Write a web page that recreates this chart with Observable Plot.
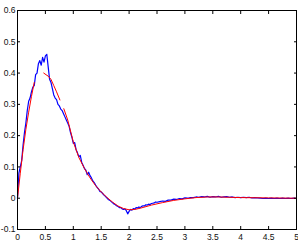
<!DOCTYPE html>
<html><head><meta charset="utf-8">
<script src="https://cdn.jsdelivr.net/npm/d3@7"></script>
<script src="https://cdn.jsdelivr.net/npm/@observablehq/plot@0.6"></script>
<style>body{margin:0;background:#fff}</style>
</head><body><div id="chart"></div>
<script>
const xTicks = [0, 0.5, 1, 1.5, 2, 2.5, 3, 3.5, 4, 4.5, 5];
const yTicks = [-0.1, 0, 0.1, 0.2, 0.3, 0.4, 0.5, 0.6];
const xTickLabels = ["0", "0.5", "1", "1.5", "2", "2.5", "3", "3.5", "4", "4.5", "5"];
const yTickLabels = ["-0.1", "0", "0.1", "0.2", "0.3", "0.4", "0.5", "0.6"];

// measured signal (blue)
const blueX = [0,0.025,0.05,0.075,0.1,0.125,0.15,0.175,0.2,0.225,0.25,0.275,0.3,0.325,0.35,0.375,0.4,0.425,0.45,0.475,0.5,0.525,0.55,0.575,0.6,0.625,0.65,0.675,0.7,0.725,0.75,0.775,0.8,0.825,0.85,0.875,0.9,0.925,0.95,0.975,1.0,1.025,1.05,1.075,1.1,1.125,1.15,1.175,1.2,1.225,1.25,1.275,1.3,1.325,1.35,1.375,1.4,1.425,1.45,1.475,1.5,1.525,1.55,1.575,1.6,1.625,1.65,1.675,1.7,1.725,1.75,1.775,1.8,1.825,1.85,1.875,1.9,1.925,1.95,1.975,2.0,2.025,2.05,2.075,2.1,2.125,2.15,2.175,2.2,2.225,2.25,2.275,2.3,2.325,2.35,2.375,2.4,2.425,2.45,2.475,2.5,2.55,2.6,2.65,2.7,2.75,2.8,2.85,2.9,2.95,3.0,3.05,3.1,3.15,3.2,3.25,3.3,3.35,3.4,3.45,3.5,3.55,3.6,3.65,3.7,3.75,3.8,3.85,3.9,3.95,4.0,4.05,4.1,4.15,4.2,4.25,4.3,4.35,4.4,4.45,4.5,4.55,4.6,4.65,4.7,4.75,4.8,4.85,4.9,4.95,5.0];
const blueY = [0,0.08,0.10,0.12,0.17,0.21,0.24,0.28,0.31,0.32,0.34,0.355,0.36,0.395,0.40,0.43,0.44,0.425,0.45,0.435,0.455,0.46,0.42,0.38,0.37,0.35,0.33,0.32,0.315,0.30,0.295,0.285,0.28,0.27,0.26,0.25,0.24,0.23,0.21,0.195,0.175,0.178,0.155,0.145,0.132,0.137,0.115,0.105,0.095,0.09,0.075,0.083,0.072,0.065,0.055,0.05,0.042,0.035,0.03,0.022,0.02,0.015,0.01,0.006,0.001,-0.004,-0.006,-0.01,-0.014,-0.018,-0.02,-0.024,-0.026,-0.03,-0.03,-0.034,-0.036,-0.034,-0.04,-0.05,-0.042,-0.036,-0.038,-0.033,-0.035,-0.03,-0.031,-0.028,-0.03,-0.026,-0.024,-0.025,-0.021,-0.022,-0.019,-0.02,-0.017,-0.016,-0.015,-0.012,-0.013,-0.011,-0.009,-0.01,-0.006,-0.006,-0.003,-0.004,-0.001,-0.002,0.001,0.0,0.002,0.002,0.004,0.003,0.005,0.004,0.006,0.003,0.005,0.004,0.006,0.003,0.004,0.005,0.003,0.004,0.002,0.003,0.002,0.003,0.002,0.003,0.001,0.002,0.001,0.0,-0.001,0.0,-0.001,0.0,-0.001,0.0,-0.001,0.0,-0.001,0.0,-0.001,0.0,-0.001];

// fitted model (red), drawn in pieces
const redX = [0,0.05,0.1,0.15,0.2,0.25,0.3, 0.47,0.55,0.6,0.65,0.7,0.76, 0.83,0.9,1.0,1.1,1.2,1.3,1.4,1.5,1.6,1.7,1.8,1.9,2.0,2.1,2.2,2.4,2.6,2.8,3.0,3.2,3.4,3.6,3.8,4.0,4.5,5.0];
const redY = [0,0.08,0.155,0.22,0.275,0.325,0.37, 0.40,0.39,0.38,0.36,0.34,0.314, 0.286,0.25,0.18,0.13,0.095,0.065,0.04,0.02,0.003,-0.012,-0.025,-0.033,-0.037,-0.036,-0.032,-0.022,-0.014,-0.007,-0.002,0.002,0.004,0.004,0.003,0.002,0.001,0.0];
const redSeg = [1,1,1,1,1,1,1, 2,2,2,2,2,2, 3,3,3,3,3,3,3,3,3,3,3,3,3,3,3,3,3,3,3,3,3,3,3,3,3,3];

const blue = blueX.map((x, i) => ({x, y: blueY[i]}));
const red = redX.map((x, i) => ({x, y: redY[i], seg: redSeg[i]}));

const chart = Plot.plot({
  width: 298, height: 250,
  marginLeft: 17, marginRight: 2, marginTop: 10, marginBottom: 21,
  style: {fontFamily: "'Liberation Sans', Arial, sans-serif", fontSize: "8.5px", color: "#111", background: "#fff", overflow: "visible"},
  x: {domain: [0, 5], label: null},
  y: {domain: [-0.1, 0.6], label: null},
  marks: [
    Plot.line(blue, {x: "x", y: "y", stroke: "#0000ff", strokeWidth: 1.2}),
    Plot.line(red, {x: "x", y: "y", z: "seg", stroke: "#ff0000", strokeWidth: 1}),
    Plot.frame({stroke: "#000", strokeWidth: 1}),
    Plot.axisX(xTicks, {anchor: "bottom", tickSize: -3, tickFormat: () => "", stroke: "#000"}),
    Plot.axisX(xTicks, {anchor: "top", tickSize: -3, tickFormat: () => "", stroke: "#000"}),
    Plot.axisY(yTicks, {anchor: "left", tickSize: -3, tickFormat: () => "", stroke: "#000"}),
    Plot.axisY(yTicks, {anchor: "right", tickSize: -3, tickFormat: () => "", stroke: "#000"}),
    Plot.axisX(xTicks, {anchor: "bottom", tickSize: 0, tickPadding: 4, tickFormat: (d, i) => xTickLabels[i]}),
    Plot.axisY(yTicks, {anchor: "left", tickSize: 0, tickPadding: 2, tickFormat: (d, i) => yTickLabels[i]})
  ]
});
document.getElementById("chart").appendChild(chart);
</script>
</body></html>
